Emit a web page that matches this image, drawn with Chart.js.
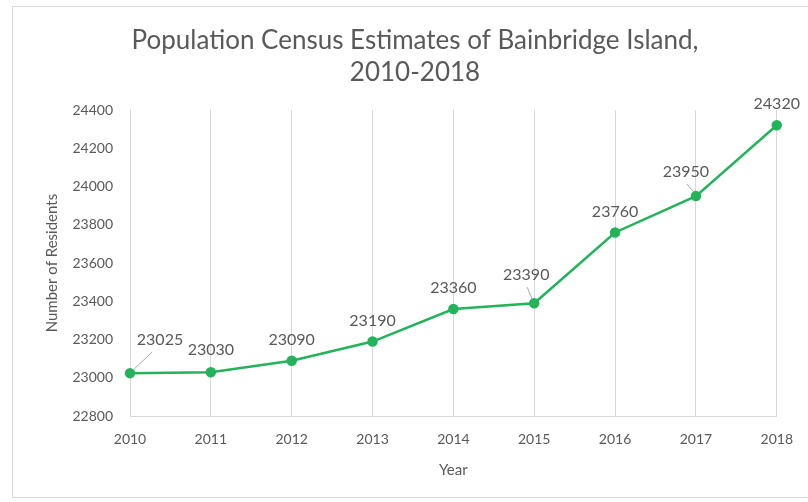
<!DOCTYPE html>
<html>
<head>
<meta charset="utf-8">
<script src="https://cdn.jsdelivr.net/npm/chart.js@4.4.0/dist/chart.umd.min.js"></script>
<style>
  html, body { margin: 0; padding: 0; background: #fff; }
  #wrap { width: 808px; height: 502px; position: relative; }
</style>
</head>
<body>
<div id="wrap"><canvas id="census-chart" width="808" height="502"></canvas></div>
<script>
// data
const years = ["2010", "2011", "2012", "2013", "2014", "2015", "2016", "2017", "2018"];
const residents = [23025, 23030, 23090, 23190, 23360, 23390, 23760, 23950, 24320];

// label offsets from point (dx, dy) and whether a leader line is drawn
const labelOffsets = [
  [30, -33, true],
  [0, -22, false],
  [0, -21, false],
  [0, -21, false],
  [0, -21, false],
  [-8, -28, true],
  [0, -21, false],
  [-10, -24, true],
  [0, -21, false],
];

const FONT = "Lato, 'Open Sans', sans-serif";
const GREY = "#595959";

// border around the chart like the excel frame
const frame = {
  id: "frame",
  beforeDraw(chart) {
    const ctx = chart.ctx;
    ctx.save();
    ctx.fillStyle = "#fff";
    ctx.fillRect(0, 0, chart.width, chart.height);
    ctx.strokeStyle = "#d9d9d9";
    ctx.lineWidth = 1;
    ctx.strokeRect(12.5, 6.5, 810, 491);
    ctx.restore();
  },
};

// data labels
const valueLabels = {
  id: "valueLabels",
  afterDatasetsDraw(chart) {
    const ctx = chart.ctx;
    const points = chart.getDatasetMeta(0).data;
    ctx.save();
    ctx.font = "16px " + FONT;
    ctx.fillStyle = GREY;
    ctx.textAlign = "center";
    ctx.textBaseline = "middle";
    points.forEach((p, i) => {
      const [dx, dy, leader] = labelOffsets[i];
      const lx = p.x + dx;
      const ly = p.y + dy;
      if (leader) {
        ctx.strokeStyle = "#a6a6a6";
        ctx.lineWidth = 1;
        ctx.beginPath();
        if (dx > 0) {
          ctx.moveTo(lx - 8, ly + 12);
          ctx.lineTo(p.x + 3, p.y - 3);
        } else {
          ctx.moveTo(lx + 1, ly + 12);
          ctx.lineTo(p.x - 2, p.y - 4);
        }
        ctx.stroke();
      }
      ctx.fillText(residents[i], lx, ly);
    });
    ctx.restore();
  },
};

const data = {
  labels: years,
  datasets: [
    {
      data: residents,
      borderColor: "#22b35b",
      backgroundColor: "#22b35b",
      borderWidth: 2.5,
      pointRadius: 4,
      pointHoverRadius: 4,
      tension: 0,
    },
  ],
};

const config = {
  type: "line",
  data: data,
  plugins: [frame, valueLabels],
  options: {
    responsive: false,
    animation: false,
    layout: {
      padding: { left: 52, right: 30, top: 24, bottom: 21 },
    },
    scales: {
      x: {
        offset: false,
        grid: { display: true, color: "#d9d9d9", drawTicks: false },
        border: { display: true, color: "#d9d9d9" },
        ticks: { color: GREY, font: { family: FONT, size: 14 }, padding: 15, maxRotation: 0 },
        title: {
          display: true,
          text: "Year",
          color: GREY,
          font: { family: FONT, size: 15, lineHeight: 1 },
          padding: { top: 0, bottom: 3 },
        },
      },
      y: {
        min: 22800,
        max: 24400,
        grid: { display: false },
        border: { display: false },
        afterFit: (scale) => {
          scale.width = 78;
        },
        ticks: {
          stepSize: 200,
          color: GREY,
          font: { family: FONT, size: 14 },
          padding: 9,
          callback: (value) => String(value),
        },
        title: {
          display: true,
          text: "Number of Residents",
          color: GREY,
          font: { family: FONT, size: 15 },
          padding: { top: -9, bottom: 0 },
        },
      },
    },
    plugins: {
      legend: { display: false },
      tooltip: { enabled: false },
      title: {
        display: true,
        text: ["Population Census Estimates of Bainbridge Island,", "2010-2018"],
        color: GREY,
        font: { family: FONT, size: 26, weight: "normal", lineHeight: 1.25 },
        padding: { top: 0, bottom: 21 },
      },
    },
  },
};

const myChart = new Chart(document.getElementById("census-chart"), config);
</script>
</body>
</html>
